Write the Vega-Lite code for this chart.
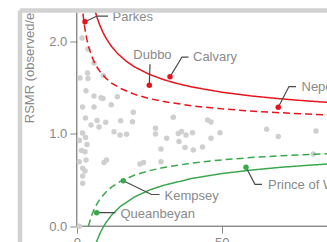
{
  "$schema": "https://vega.github.io/schema/vega-lite/v6.json",
  "width": 307,
  "height": 231.5,
  "autosize": {"type": "none"},
  "padding": {"left": 20, "top": 10.5, "right": 0, "bottom": 0},
  "config": {"view": {"stroke": null}, "font": "Liberation Sans"},
  "datasets": {
    "units": [
      {"n": 1.79, "r": 2.035, "status": "normal"},
      {"n": 3.86, "r": 1.916, "status": "normal"},
      {"n": 5.94, "r": 1.765, "status": "normal"},
      {"n": 1.10, "r": 1.602, "status": "normal"},
      {"n": 3.69, "r": 1.656, "status": "normal"},
      {"n": 3.86, "r": 1.597, "status": "normal"},
      {"n": 9.14, "r": 1.629, "status": "normal"},
      {"n": 3.17, "r": 1.465, "status": "normal"},
      {"n": 5.94, "r": 1.408, "status": "normal"},
      {"n": 8.35, "r": 1.389, "status": "normal"},
      {"n": 9.04, "r": 1.381, "status": "normal"},
      {"n": 13.98, "r": 1.400, "status": "normal"},
      {"n": 1.97, "r": 1.289, "status": "normal"},
      {"n": 5.94, "r": 1.289, "status": "normal"},
      {"n": 11.90, "r": 1.314, "status": "normal"},
      {"n": 19.50, "r": 1.231, "status": "normal"},
      {"n": 3.00, "r": 1.170, "status": "normal"},
      {"n": 6.97, "r": 1.143, "status": "normal"},
      {"n": 9.97, "r": 1.123, "status": "normal"},
      {"n": 15.15, "r": 1.141, "status": "normal"},
      {"n": 4.90, "r": 1.094, "status": "normal"},
      {"n": 7.66, "r": 1.072, "status": "normal"},
      {"n": 12.84, "r": 1.022, "status": "normal"},
      {"n": 14.91, "r": 0.986, "status": "normal"},
      {"n": 17.15, "r": 0.994, "status": "normal"},
      {"n": 19.22, "r": 1.130, "status": "normal"},
      {"n": 1.97, "r": 1.008, "status": "normal"},
      {"n": 3.00, "r": 0.959, "status": "normal"},
      {"n": 0.93, "r": 0.926, "status": "normal"},
      {"n": 3.52, "r": 0.883, "status": "normal"},
      {"n": 1.62, "r": 0.818, "status": "normal"},
      {"n": 2.83, "r": 0.805, "status": "normal"},
      {"n": 0.86, "r": 0.697, "status": "normal"},
      {"n": 3.17, "r": 0.716, "status": "normal"},
      {"n": 2.04, "r": 0.626, "status": "normal"},
      {"n": 2.83, "r": 0.597, "status": "normal"},
      {"n": 2.04, "r": 0.543, "status": "normal"},
      {"n": 2.04, "r": 0.464, "status": "normal"},
      {"n": 9.39, "r": 0.689, "status": "normal"},
      {"n": 10.25, "r": 0.716, "status": "normal"},
      {"n": 0.86, "r": 0.0, "status": "normal"},
      {"n": 27.16, "r": 1.058, "status": "normal"},
      {"n": 27.16, "r": 0.997, "status": "normal"},
      {"n": 33.30, "r": 1.177, "status": "normal"},
      {"n": 45.17, "r": 1.148, "status": "normal"},
      {"n": 46.31, "r": 1.126, "status": "normal"},
      {"n": 31.02, "r": 0.950, "status": "normal"},
      {"n": 35.02, "r": 1.002, "status": "normal"},
      {"n": 36.13, "r": 1.024, "status": "normal"},
      {"n": 37.68, "r": 0.986, "status": "normal"},
      {"n": 39.92, "r": 1.011, "status": "normal"},
      {"n": 35.27, "r": 0.916, "status": "normal"},
      {"n": 49.41, "r": 1.011, "status": "normal"},
      {"n": 46.31, "r": 0.950, "status": "normal"},
      {"n": 29.05, "r": 0.835, "status": "normal"},
      {"n": 37.34, "r": 0.851, "status": "normal"},
      {"n": 40.20, "r": 0.824, "status": "normal"},
      {"n": 43.37, "r": 0.856, "status": "normal"},
      {"n": 21.81, "r": 0.672, "status": "normal"},
      {"n": 23.02, "r": 0.689, "status": "normal"},
      {"n": 29.05, "r": 0.697, "status": "normal"},
      {"n": 65.53, "r": 1.048, "status": "normal"},
      {"n": 69.53, "r": 0.970, "status": "normal"},
      {"n": 82.54, "r": 1.029, "status": "normal"},
      {"n": 81.61, "r": 0.781, "status": "normal"},
      {"n": 2.83, "r": 2.211, "status": "high", "name": "Parkes"},
      {"n": 25.02, "r": 1.523, "status": "high", "name": "Dubbo"},
      {"n": 32.16, "r": 1.615, "status": "high", "name": "Calvary"},
      {"n": 69.53, "r": 1.285, "status": "high", "name": "Nepean"},
      {"n": 16.05, "r": 0.492, "status": "low", "name": "Kempsey"},
      {"n": 6.87, "r": 0.146, "status": "low", "name": "Queanbeyan"},
      {"n": 58.39, "r": 0.637, "status": "low", "name": "Prince of Wales"}
    ],
    "limits": [
      {"bound": "upper", "level": "99.8%", "n": 5.5, "r": 2.427},
      {"bound": "upper", "level": "99.8%", "n": 6, "r": 2.362},
      {"bound": "upper", "level": "99.8%", "n": 7, "r": 2.254},
      {"bound": "upper", "level": "99.8%", "n": 8, "r": 2.168},
      {"bound": "upper", "level": "99.8%", "n": 9, "r": 2.097},
      {"bound": "upper", "level": "99.8%", "n": 10, "r": 2.037},
      {"bound": "upper", "level": "99.8%", "n": 12, "r": 1.942},
      {"bound": "upper", "level": "99.8%", "n": 14, "r": 1.869},
      {"bound": "upper", "level": "99.8%", "n": 17, "r": 1.785},
      {"bound": "upper", "level": "99.8%", "n": 20, "r": 1.721},
      {"bound": "upper", "level": "99.8%", "n": 25, "r": 1.642},
      {"bound": "upper", "level": "99.8%", "n": 30, "r": 1.584},
      {"bound": "upper", "level": "99.8%", "n": 35, "r": 1.539},
      {"bound": "upper", "level": "99.8%", "n": 40, "r": 1.504},
      {"bound": "upper", "level": "99.8%", "n": 50, "r": 1.449},
      {"bound": "upper", "level": "99.8%", "n": 60, "r": 1.409},
      {"bound": "upper", "level": "99.8%", "n": 70, "r": 1.378},
      {"bound": "upper", "level": "99.8%", "n": 80, "r": 1.353},
      {"bound": "upper", "level": "99.8%", "n": 90, "r": 1.332},
      {"bound": "upper", "level": "95%", "n": 1.8, "r": 2.416},
      {"bound": "upper", "level": "95%", "n": 2.2, "r": 2.281},
      {"bound": "upper", "level": "95%", "n": 2.6, "r": 2.178},
      {"bound": "upper", "level": "95%", "n": 3, "r": 2.097},
      {"bound": "upper", "level": "95%", "n": 3.5, "r": 2.016},
      {"bound": "upper", "level": "95%", "n": 4, "r": 1.95},
      {"bound": "upper", "level": "95%", "n": 5, "r": 1.85},
      {"bound": "upper", "level": "95%", "n": 6, "r": 1.776},
      {"bound": "upper", "level": "95%", "n": 7, "r": 1.718},
      {"bound": "upper", "level": "95%", "n": 8, "r": 1.672},
      {"bound": "upper", "level": "95%", "n": 10, "r": 1.601},
      {"bound": "upper", "level": "95%", "n": 12, "r": 1.548},
      {"bound": "upper", "level": "95%", "n": 15, "r": 1.491},
      {"bound": "upper", "level": "95%", "n": 20, "r": 1.425},
      {"bound": "upper", "level": "95%", "n": 25, "r": 1.38},
      {"bound": "upper", "level": "95%", "n": 30, "r": 1.347},
      {"bound": "upper", "level": "95%", "n": 40, "r": 1.3},
      {"bound": "upper", "level": "95%", "n": 50, "r": 1.269},
      {"bound": "upper", "level": "95%", "n": 60, "r": 1.245},
      {"bound": "upper", "level": "95%", "n": 70, "r": 1.227},
      {"bound": "upper", "level": "95%", "n": 80, "r": 1.212},
      {"bound": "upper", "level": "95%", "n": 90, "r": 1.2},
      {"bound": "lower", "level": "95%", "n": 4, "r": 0.0},
      {"bound": "lower", "level": "95%", "n": 5, "r": 0.106},
      {"bound": "lower", "level": "95%", "n": 6, "r": 0.184},
      {"bound": "lower", "level": "95%", "n": 7, "r": 0.244},
      {"bound": "lower", "level": "95%", "n": 8, "r": 0.293},
      {"bound": "lower", "level": "95%", "n": 10, "r": 0.368},
      {"bound": "lower", "level": "95%", "n": 12, "r": 0.423},
      {"bound": "lower", "level": "95%", "n": 15, "r": 0.484},
      {"bound": "lower", "level": "95%", "n": 20, "r": 0.553},
      {"bound": "lower", "level": "95%", "n": 25, "r": 0.6},
      {"bound": "lower", "level": "95%", "n": 30, "r": 0.635},
      {"bound": "lower", "level": "95%", "n": 40, "r": 0.684},
      {"bound": "lower", "level": "95%", "n": 50, "r": 0.717},
      {"bound": "lower", "level": "95%", "n": 60, "r": 0.742},
      {"bound": "lower", "level": "95%", "n": 70, "r": 0.761},
      {"bound": "lower", "level": "95%", "n": 80, "r": 0.776},
      {"bound": "lower", "level": "95%", "n": 90, "r": 0.789},
      {"bound": "lower", "level": "99.8%", "n": 6.6, "r": -0.187},
      {"bound": "lower", "level": "99.8%", "n": 7, "r": -0.153},
      {"bound": "lower", "level": "99.8%", "n": 8, "r": -0.078},
      {"bound": "lower", "level": "99.8%", "n": 9, "r": -0.017},
      {"bound": "lower", "level": "99.8%", "n": 10, "r": 0.036},
      {"bound": "lower", "level": "99.8%", "n": 12, "r": 0.12},
      {"bound": "lower", "level": "99.8%", "n": 15, "r": 0.213},
      {"bound": "lower", "level": "99.8%", "n": 20, "r": 0.318},
      {"bound": "lower", "level": "99.8%", "n": 25, "r": 0.39},
      {"bound": "lower", "level": "99.8%", "n": 30, "r": 0.443},
      {"bound": "lower", "level": "99.8%", "n": 40, "r": 0.518},
      {"bound": "lower", "level": "99.8%", "n": 50, "r": 0.569},
      {"bound": "lower", "level": "99.8%", "n": 60, "r": 0.606},
      {"bound": "lower", "level": "99.8%", "n": 70, "r": 0.636},
      {"bound": "lower", "level": "99.8%", "n": 80, "r": 0.659},
      {"bound": "lower", "level": "99.8%", "n": 90, "r": 0.679}
    ],
    "leaders": [
      {"label": "Parkes", "i": 0, "n": 2.83, "r": 2.211},
      {"label": "Parkes", "i": 1, "n": 6.97, "r": 2.272},
      {"label": "Parkes", "i": 2, "n": 10.77, "r": 2.272},
      {"label": "Dubbo", "i": 0, "n": 25.02, "r": 1.523},
      {"label": "Dubbo", "i": 1, "n": 25.26, "r": 1.751},
      {"label": "Calvary", "i": 0, "n": 32.16, "r": 1.615},
      {"label": "Calvary", "i": 1, "n": 36.3, "r": 1.829},
      {"label": "Calvary", "i": 2, "n": 38.54, "r": 1.829},
      {"label": "Nepean", "i": 0, "n": 69.53, "r": 1.285},
      {"label": "Nepean", "i": 1, "n": 73.22, "r": 1.51},
      {"label": "Nepean", "i": 2, "n": 75.64, "r": 1.51},
      {"label": "Kempsey", "i": 0, "n": 16.05, "r": 0.492},
      {"label": "Kempsey", "i": 1, "n": 25.78, "r": 0.343},
      {"label": "Kempsey", "i": 2, "n": 28.54, "r": 0.343},
      {"label": "Queanbeyan", "i": 0, "n": 6.87, "r": 0.146},
      {"label": "Queanbeyan", "i": 1, "n": 13.35, "r": 0.146},
      {"label": "Prince of Wales", "i": 0, "n": 58.39, "r": 0.637},
      {"label": "Prince of Wales", "i": 1, "n": 61.49, "r": 0.453},
      {"label": "Prince of Wales", "i": 2, "n": 63.91, "r": 0.453}
    ],
    "labels": [
      {"label": "Parkes", "n": 12.32, "r": 2.264},
      {"label": "Dubbo", "n": 19.49, "r": 1.856},
      {"label": "Calvary", "n": 40.1, "r": 1.829},
      {"label": "Nepean", "n": 77.54, "r": 1.508},
      {"label": "Kempsey", "n": 30.26, "r": 0.3265},
      {"label": "Queanbeyan", "n": 15.08, "r": 0.137},
      {"label": "Prince of Wales", "n": 65.98, "r": 0.445}
    ],
    "axislines": [
      {"n": 0, "n2": 95, "r": 0, "r2": 0},
      {"n": 0, "n2": 0, "r": 0, "r2": 2.5}
    ],
    "frameleft": [{"n": -19.6}],
    "frametop": [{"r": 2.332}],
    "ytitle": [{"text": "RSMR (observed/expected)", "n": -16.15, "r": 1.113}]
  },
  "encoding": {
    "x": {"field": "n", "type": "quantitative", "scale": {"domain": [-19.6, 86.34], "nice": false, "zero": false},
      "axis": {"orient": "bottom", "offset": -15.8, "values": [0, 50], "domain": false, "grid": false, "tickSize": 7, "tickColor": "#888888", "labelColor": "#888888", "labelFontSize": 13, "labelPadding": 3, "title": null, "labelFlush": false}},
    "y": {"field": "r", "type": "quantitative", "scale": {"domain": [-0.1708, 2.332], "nice": false, "zero": false},
      "axis": {"orient": "left", "offset": -56.8, "values": [0, 1, 2], "format": ".1f", "domain": false, "grid": false, "tickSize": 7, "tickColor": "#888888", "labelColor": "#888888", "labelFontSize": 13, "labelPadding": 3, "title": null, "labelFlush": false}}
  },
  "layer": [
    {
      "data": {"name": "axislines"},
      "mark": {"type": "rule", "color": "#5a5a5a", "strokeWidth": 1, "clip": true},
      "encoding": {
        "x2": {"field": "n2"},
        "y2": {"field": "r2"}
      }
    },
    {
      "data": {"name": "units"},
      "transform": [{"filter": "datum.status === 'normal'"}],
      "mark": {"type": "circle", "size": 30, "color": "#cfcfcf", "opacity": 1, "clip": true},
      "encoding": {}
    },
    {
      "data": {"name": "limits"},
      "mark": {"type": "line", "strokeWidth": 1.5, "clip": true},
      "encoding": {
        "color": {"field": "bound", "type": "nominal", "scale": {"domain": ["upper", "lower"], "range": ["#e8141c", "#3aa84e"]}, "legend": null},
        "strokeDash": {"field": "level", "type": "nominal", "scale": {"domain": ["99.8%", "95%"], "range": [[1, 0], [7, 4]]}, "legend": null}
      }
    },
    {
      "data": {"name": "leaders"},
      "mark": {"type": "line", "color": "#4a4a4a", "strokeWidth": 1.2, "clip": true},
      "encoding": {
        "detail": {"field": "label", "type": "nominal"},
        "order": {"field": "i", "type": "quantitative"}
      }
    },
    {
      "data": {"name": "units"},
      "transform": [{"filter": "datum.status !== 'normal'"}],
      "mark": {"type": "circle", "size": 30, "opacity": 1, "clip": true},
      "encoding": {
        "color": {"field": "status", "type": "nominal", "scale": {"domain": ["high", "low"], "range": ["#e8141c", "#4f9e2c"]}, "legend": null}
      }
    },
    {
      "data": {"name": "labels"},
      "mark": {"type": "text", "align": "left", "baseline": "middle", "fontSize": 13, "color": "#8a8a8a", "clip": true},
      "encoding": {"text": {"field": "label", "type": "nominal"}}
    },
    {
      "data": {"name": "ytitle"},
      "mark": {"type": "text", "align": "left", "baseline": "middle", "angle": 270, "fontSize": 13, "color": "#8a8a8a", "clip": true},
      "encoding": {"text": {"field": "text", "type": "nominal"}}
    },
    {
      "data": {"name": "frameleft"},
      "mark": {"type": "rule", "color": "#d2d2d2", "strokeWidth": 4.5},
      "encoding": {"x": {"field": "n", "type": "quantitative"}, "y": null}
    },
    {
      "data": {"name": "frametop"},
      "mark": {"type": "rule", "color": "#d2d2d2", "strokeWidth": 4.5},
      "encoding": {"y": {"field": "r", "type": "quantitative"}, "x": null}
    }
  ]
}
